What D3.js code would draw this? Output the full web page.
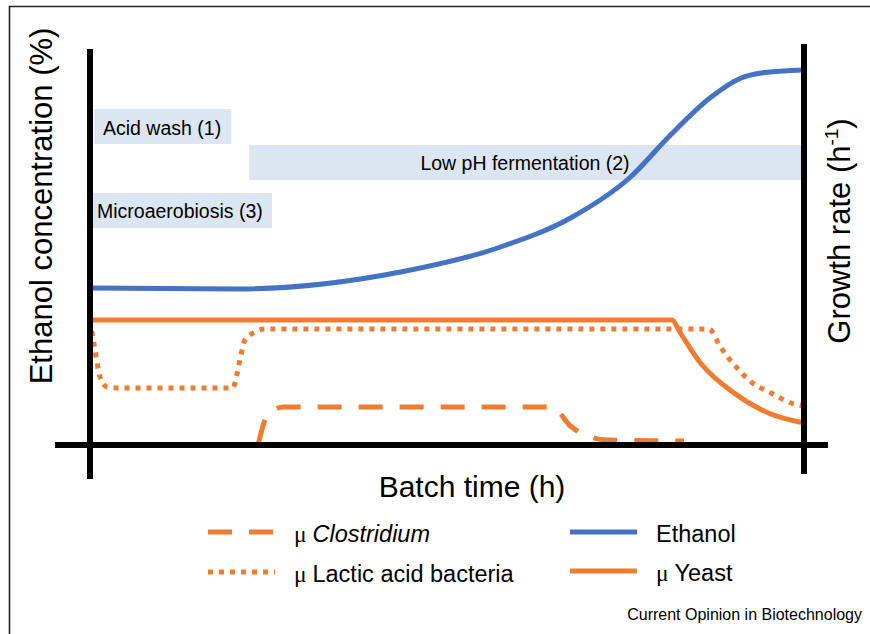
<!DOCTYPE html>
<html>
<head>
<meta charset="utf-8">
<script src="https://cdn.jsdelivr.net/npm/d3@7"></script>
<style>
	html, body { margin: 0; padding: 0; background: #fff; }
	svg { display: block; }
	text { font-family: "Liberation Sans", Arial, Helvetica, sans-serif; fill: #000; }
</style>
</head>
<body>
<div id="chart"></div>
<script>
// Batch time in % of batch, values in % of the axis height (schematic)
const ethanol = [[0, 39.25], [20.6, 39], [43.5, 43.25], [57.5, 49.5], [67.3, 56.75],
	[75.7, 67], [81.3, 77.5], [87, 87], [91.2, 91.75], [94, 93], [100, 93.75]];
const yeast = [[0, 31.25], [81.5, 31.25], [82.6, 28.25], [85.5, 20.5], [90.2, 13], [95, 8], [100, 5.5]];
const lactic = [[0, 31.25], [0.7, 23.75], [1.4, 17], [2.4, 14.5], [4, 14.25], [20, 14.25], [20.5, 17],
	[21, 21.25], [21.7, 26.25], [23.1, 28.25], [24.5, 29], [86.7, 29], [88.3, 24.5], [90.5, 19.5],
	[92.6, 15.75], [95.4, 13], [98.2, 10.5], [100, 9.75]];
const clostridium = [[23.6, 0.5], [24.5, 6.25], [25.5, 8.5], [27.1, 9.5], [64.5, 9.5], [65.2, 9],
	[67.3, 4.75], [69.7, 2.25], [72.5, 1.25], [83.2, 1]];

// process phases (time span in % of batch)
const phaseLabels = ['Acid wash (1)', 'Low pH fermentation (2)', 'Microaerobiosis (3)'];
const phaseStart = [0.6, 22.3, 0.4];
const phaseEnd = [19.8, 100, 25.5];

const legendLabels = ['Clostridium', 'Lactic acid bacteria', 'Ethanol', 'Yeast'];

const full_width = 870;
const full_height = 634;

const blue = '#4472c4';
const orange = '#ed7d31';

const svg = d3.select('#chart')
	.append('svg')
		.attr('width', full_width)
		.attr('height', full_height);

// frame (cropped on right/bottom)
svg.append('path')
	.attr('d', 'M9.5,' + full_height + 'V6.5H' + full_width)
	.attr('fill', 'none')
	.attr('stroke', '#222')
	.attr('stroke-width', 1.6);

let x = d3.scaleLinear().domain([0, 100]).range([90, 804]);
let y = d3.scaleLinear().domain([0, 100]).range([445, 45]);

// phase boxes
const rowTop = [109, 145, 193];
const boxH = 35;
const boxes = svg.append('g');
phaseLabels.forEach((lab, i) => {
	boxes.append('rect')
		.attr('x', x(phaseStart[i]))
		.attr('y', rowTop[i])
		.attr('width', x(phaseEnd[i]) - x(phaseStart[i]))
		.attr('height', boxH)
		.attr('fill', '#dce6f2');
});
boxes.append('text').attr('x', 103).attr('y', 135).attr('font-size', 19.5).text(phaseLabels[0]);
boxes.append('text').attr('x', 525).attr('y', 170).attr('font-size', 19.5)
	.attr('text-anchor', 'middle').text(phaseLabels[1]);
boxes.append('text').attr('x', 97).attr('y', 218).attr('font-size', 19.5).text(phaseLabels[2]);

const line = d3.line()
	.x(d => x(d[0]))
	.y(d => y(d[1]))
	.curve(d3.curveMonotoneX);

const series = [
	{data: clostridium, color: orange, dash: '24,17'},
	{data: lactic, color: orange, dash: '5,6'},
	{data: yeast, color: orange, dash: null},
	{data: ethanol, color: blue, dash: null},
];

svg.append('g')
	.selectAll('path')
	.data(series)
	.enter()
	.append('path')
		.attr('d', d => line(d.data))
		.attr('fill', 'none')
		.attr('stroke', d => d.color)
		.attr('stroke-width', 5)
		.attr('stroke-dasharray', d => d.dash);

// axes (plain thick black lines, no ticks)
const axes = svg.append('g').attr('stroke', '#000').attr('stroke-width', 6);
axes.append('line').attr('x1', 55).attr('x2', 828).attr('y1', y(0)).attr('y2', y(0));
axes.append('line').attr('x1', x(0)).attr('x2', x(0)).attr('y1', 49).attr('y2', 479);
axes.append('line').attr('x1', x(100)).attr('x2', x(100)).attr('y1', 44).attr('y2', 474);

// axis titles
svg.append('text')
	.attr('transform', 'translate(52,206) rotate(-90)')
	.attr('text-anchor', 'middle')
	.attr('font-size', 31)
	.text('Ethanol concentration (%)');

const rt = svg.append('text')
	.attr('transform', 'translate(850,231) rotate(-90)')
	.attr('text-anchor', 'middle')
	.attr('font-size', 31);
rt.append('tspan').text('Growth rate (h');
rt.append('tspan').attr('font-size', 19).attr('dy', -12).text('-1');
rt.append('tspan').attr('dy', 12).text(')');

svg.append('text')
	.attr('x', 472)
	.attr('y', 497)
	.attr('text-anchor', 'middle')
	.attr('font-size', 30)
	.text('Batch time (h)');

// legend
const legend = svg.append('g');
const legendItems = [
	{x: 208, y: 532, color: orange, dash: '24,17', label: legendLabels[0], italic: true, mu: true},
	{x: 208, y: 572, color: orange, dash: '5,6', label: legendLabels[1], italic: false, mu: true},
	{x: 570, y: 532, color: blue, dash: null, label: legendLabels[2], italic: false, mu: false},
	{x: 570, y: 571, color: orange, dash: null, label: legendLabels[3], italic: false, mu: true},
];
legendItems.forEach(d => {
	legend.append('line')
		.attr('x1', d.x).attr('x2', d.x + 67)
		.attr('y1', d.y).attr('y2', d.y)
		.attr('stroke', d.color)
		.attr('stroke-width', 5)
		.attr('stroke-dasharray', d.dash);
	const t = legend.append('text')
		.attr('x', d.x + 86)
		.attr('y', d.y + 10)
		.attr('font-size', 23.5);
	if (d.mu) {
		t.append('tspan').attr('font-family', '"Liberation Serif", "Times New Roman", serif').text('\u03bc ');
	}
	t.append('tspan').attr('font-style', d.italic ? 'italic' : null).text(d.label);
});

svg.append('text')
	.attr('x', 862)
	.attr('y', 620)
	.attr('text-anchor', 'end')
	.attr('font-size', 16)
	.text('Current Opinion in Biotechnology');
</script>
</body>
</html>
